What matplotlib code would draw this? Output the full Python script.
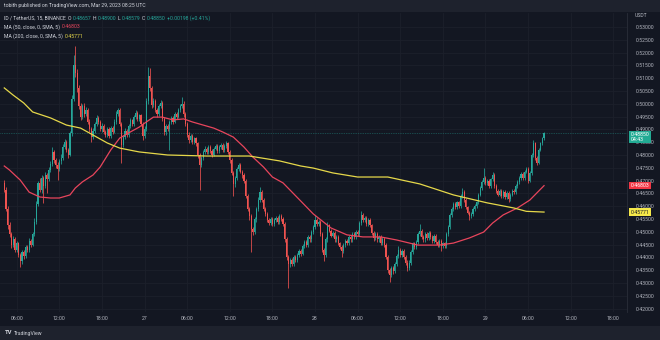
import numpy as np
import matplotlib.pyplot as plt
from matplotlib.transforms import blended_transform_factory

# ID / USDT, 15 min candles, 26 Mar 04:15 -> 29 Mar 08:15 UTC
first_open = 0.4690
last_open = 0.48657

closes = [
    0.4665, 0.4590, 0.4525, 0.4490, 0.4450, 0.4470, 0.4430, 0.4455, 0.4410, 0.4385,
    0.4420, 0.4405, 0.4440, 0.4430, 0.4465, 0.4450, 0.4490, 0.4540, 0.4610, 0.4690,
    0.4665, 0.4710, 0.4680, 0.4720, 0.4705, 0.4740, 0.4765, 0.4810, 0.4780, 0.4760,
    0.4745, 0.4775, 0.4790, 0.4830, 0.4850, 0.4820, 0.4800, 0.4885, 0.5020, 0.5150,
    0.5120, 0.5060, 0.4990, 0.4950, 0.4990, 0.4960, 0.4975, 0.4930, 0.4900, 0.4870,
    0.4895, 0.4920, 0.4945, 0.4930, 0.4900, 0.4915, 0.4890, 0.4880, 0.4900, 0.4875,
    0.4905, 0.4890, 0.4930, 0.4960, 0.4975, 0.4920, 0.4840, 0.4870, 0.4895, 0.4880,
    0.4915, 0.4935, 0.4920, 0.4950, 0.4965, 0.4940, 0.4955, 0.4920, 0.4875, 0.4900,
    0.5010, 0.5110, 0.5060, 0.4995, 0.5010, 0.4975, 0.4960, 0.4990, 0.5005, 0.4940,
    0.4890, 0.4915, 0.4900, 0.4930, 0.4945, 0.4930, 0.4960, 0.4950, 0.4975, 0.4990,
    0.5000, 0.4960, 0.4920, 0.4880, 0.4860, 0.4875, 0.4850, 0.4865, 0.4845, 0.4800,
    0.4760, 0.4790, 0.4810, 0.4825, 0.4810, 0.4830, 0.4815, 0.4800, 0.4825, 0.4835,
    0.4815, 0.4830, 0.4840, 0.4820, 0.4835, 0.4845, 0.4810, 0.4780, 0.4730, 0.4685,
    0.4710, 0.4745, 0.4760, 0.4735, 0.4720, 0.4700, 0.4640, 0.4590, 0.4560, 0.4510,
    0.4500, 0.4550, 0.4590, 0.4625, 0.4655, 0.4625, 0.4590, 0.4570, 0.4545, 0.4535,
    0.4550, 0.4530, 0.4545, 0.4555, 0.4540, 0.4560, 0.4550, 0.4530, 0.4470, 0.4400,
    0.4375, 0.4390, 0.4375, 0.4400, 0.4390, 0.4410, 0.4425, 0.4415, 0.4445, 0.4460,
    0.4450, 0.4480, 0.4470, 0.4500, 0.4520, 0.4545, 0.4530, 0.4540, 0.4490, 0.4430,
    0.4410, 0.4470, 0.4525, 0.4505, 0.4485, 0.4495, 0.4470, 0.4480, 0.4455, 0.4440,
    0.4425, 0.4450, 0.4465, 0.4455, 0.4480, 0.4470, 0.4490, 0.4480, 0.4500, 0.4490,
    0.4535, 0.4565, 0.4545, 0.4555, 0.4530, 0.4545, 0.4525, 0.4495, 0.4475, 0.4490,
    0.4470, 0.4480, 0.4455, 0.4470, 0.4450, 0.4400, 0.4350, 0.4330, 0.4360, 0.4345,
    0.4375, 0.4405, 0.4430, 0.4410, 0.4425, 0.4400, 0.4380, 0.4360, 0.4380, 0.4420,
    0.4455, 0.4440, 0.4460, 0.4490, 0.4505, 0.4480, 0.4470, 0.4490, 0.4475, 0.4495,
    0.4480, 0.4465, 0.4485, 0.4460, 0.4450, 0.4465, 0.4445, 0.4455, 0.4445, 0.4490,
    0.4520, 0.4565, 0.4590, 0.4610, 0.4595, 0.4615, 0.4600, 0.4640, 0.4655, 0.4625,
    0.4595, 0.4575, 0.4560, 0.4570, 0.4590, 0.4600, 0.4615, 0.4645, 0.4670, 0.4695,
    0.4710, 0.4690, 0.4700, 0.4680, 0.4705, 0.4720, 0.4680, 0.4660, 0.4645, 0.4660,
    0.4640, 0.4655, 0.4635, 0.4650, 0.4630, 0.4645, 0.4660, 0.4655, 0.4680, 0.4695,
    0.4710, 0.4725, 0.4710, 0.4735, 0.4745, 0.4700, 0.4730, 0.4800, 0.4845, 0.4790,
    0.4770, 0.4820, 0.4845, 0.48652, 0.48850,
]

highs = [
    0.4702, 0.4675, 0.4600, 0.4540, 0.4498, 0.4482, 0.4478, 0.4465, 0.4462, 0.4418,
    0.4430, 0.4428, 0.4450, 0.4448, 0.4475, 0.4472, 0.4498, 0.4552, 0.4622, 0.4700,
    0.4712, 0.4722, 0.4718, 0.4732, 0.4728, 0.4752, 0.4778, 0.4832, 0.4818, 0.4790,
    0.4772, 0.4785, 0.4802, 0.4842, 0.4862, 0.4858, 0.4828, 0.4892, 0.5035, 0.5190,
    0.5225, 0.5135, 0.5072, 0.5002, 0.5000, 0.5005, 0.4988, 0.4985, 0.4942, 0.4910,
    0.4905, 0.4928, 0.4955, 0.4952, 0.4938, 0.4925, 0.4922, 0.4898, 0.4910, 0.4908,
    0.4912, 0.4912, 0.4940, 0.4970, 0.4985, 0.4982, 0.4928, 0.4880, 0.4905, 0.4902,
    0.4922, 0.4945, 0.4942, 0.4958, 0.4975, 0.4972, 0.4962, 0.4962, 0.4928, 0.4912,
    0.5022, 0.5145, 0.5140, 0.5070, 0.5022, 0.5018, 0.4985, 0.4998, 0.5015, 0.5012,
    0.4948, 0.4922, 0.4922, 0.4938, 0.4952, 0.4952, 0.4968, 0.4968, 0.4982, 0.4998,
    0.5027, 0.5010, 0.4968, 0.4928, 0.4888, 0.4882, 0.4882, 0.4872, 0.4872, 0.4852,
    0.4808, 0.4798, 0.4818, 0.4835, 0.4832, 0.4838, 0.4838, 0.4822, 0.4832, 0.4842,
    0.4842, 0.4838, 0.4848, 0.4848, 0.4842, 0.4855, 0.4852, 0.4818, 0.4788, 0.4738,
    0.4718, 0.4752, 0.4770, 0.4768, 0.4742, 0.4728, 0.4708, 0.4648, 0.4598, 0.4568,
    0.4520, 0.4558, 0.4598, 0.4635, 0.4676, 0.4662, 0.4632, 0.4598, 0.4578, 0.4552,
    0.4558, 0.4558, 0.4552, 0.4562, 0.4562, 0.4568, 0.4570, 0.4558, 0.4538, 0.4478,
    0.4408, 0.4398, 0.4398, 0.4408, 0.4408, 0.4418, 0.4432, 0.4432, 0.4452, 0.4468,
    0.4468, 0.4488, 0.4488, 0.4508, 0.4528, 0.4566, 0.4552, 0.4548, 0.4548, 0.4498,
    0.4438, 0.4478, 0.4540, 0.4532, 0.4512, 0.4502, 0.4502, 0.4488, 0.4488, 0.4462,
    0.4448, 0.4458, 0.4472, 0.4472, 0.4488, 0.4488, 0.4498, 0.4498, 0.4508, 0.4508,
    0.4542, 0.4580, 0.4572, 0.4562, 0.4562, 0.4552, 0.4552, 0.4532, 0.4502, 0.4498,
    0.4498, 0.4488, 0.4488, 0.4478, 0.4478, 0.4458, 0.4408, 0.4358, 0.4368, 0.4368,
    0.4382, 0.4412, 0.4445, 0.4438, 0.4432, 0.4432, 0.4408, 0.4388, 0.4388, 0.4428,
    0.4462, 0.4462, 0.4468, 0.4498, 0.4530, 0.4512, 0.4488, 0.4498, 0.4498, 0.4502,
    0.4502, 0.4488, 0.4492, 0.4492, 0.4468, 0.4472, 0.4472, 0.4462, 0.4462, 0.4498,
    0.4528, 0.4572, 0.4598, 0.4618, 0.4618, 0.4622, 0.4622, 0.4648, 0.4672, 0.4662,
    0.4632, 0.4602, 0.4582, 0.4578, 0.4598, 0.4608, 0.4622, 0.4652, 0.4678, 0.4702,
    0.4750, 0.4718, 0.4708, 0.4708, 0.4712, 0.4735, 0.4728, 0.4688, 0.4668, 0.4668,
    0.4668, 0.4662, 0.4662, 0.4658, 0.4658, 0.4652, 0.4668, 0.4668, 0.4688, 0.4702,
    0.4718, 0.4732, 0.4732, 0.4742, 0.4752, 0.4752, 0.4738, 0.4808, 0.4860, 0.4852,
    0.4798, 0.4828, 0.4852, 0.4872, 0.48900,
]

lows = [
    0.4655, 0.4582, 0.4510, 0.4478, 0.4438, 0.4442, 0.4420, 0.4422, 0.4400, 0.4362,
    0.4375, 0.4395, 0.4398, 0.4420, 0.4422, 0.4442, 0.4445, 0.4482, 0.4532, 0.4600,
    0.4655, 0.4652, 0.4612, 0.4672, 0.4650, 0.4698, 0.4732, 0.4758, 0.4770, 0.4748,
    0.4702, 0.4738, 0.4765, 0.4782, 0.4822, 0.4810, 0.4790, 0.4795, 0.4875, 0.5010,
    0.5105, 0.5045, 0.4978, 0.4935, 0.4940, 0.4950, 0.4952, 0.4922, 0.4888, 0.4850,
    0.4862, 0.4885, 0.4912, 0.4922, 0.4892, 0.4890, 0.4882, 0.4870, 0.4872, 0.4865,
    0.4868, 0.4882, 0.4885, 0.4922, 0.4952, 0.4912, 0.4770, 0.4830, 0.4862, 0.4870,
    0.4872, 0.4905, 0.4912, 0.4915, 0.4942, 0.4932, 0.4932, 0.4912, 0.4860, 0.4868,
    0.4892, 0.5000, 0.5050, 0.4985, 0.4988, 0.4968, 0.4950, 0.4952, 0.4982, 0.4932,
    0.4878, 0.4880, 0.4892, 0.4820, 0.4922, 0.4922, 0.4925, 0.4942, 0.4945, 0.4968,
    0.4982, 0.4950, 0.4912, 0.4872, 0.4848, 0.4852, 0.4842, 0.4842, 0.4835, 0.4790,
    0.4663, 0.4752, 0.4782, 0.4802, 0.4802, 0.4805, 0.4808, 0.4792, 0.4795, 0.4818,
    0.4808, 0.4808, 0.4822, 0.4812, 0.4812, 0.4828, 0.4802, 0.4770, 0.4720, 0.4640,
    0.4675, 0.4702, 0.4738, 0.4728, 0.4712, 0.4690, 0.4632, 0.4580, 0.4548, 0.4422,
    0.4488, 0.4492, 0.4540, 0.4582, 0.4618, 0.4618, 0.4582, 0.4562, 0.4538, 0.4525,
    0.4528, 0.4522, 0.4522, 0.4538, 0.4532, 0.4532, 0.4542, 0.4522, 0.4460, 0.4388,
    0.4280, 0.4362, 0.4365, 0.4368, 0.4382, 0.4382, 0.4402, 0.4405, 0.4408, 0.4438,
    0.4442, 0.4442, 0.4462, 0.4462, 0.4492, 0.4512, 0.4522, 0.4522, 0.4482, 0.4420,
    0.4385, 0.4402, 0.4462, 0.4498, 0.4478, 0.4478, 0.4462, 0.4462, 0.4448, 0.4432,
    0.4400, 0.4418, 0.4442, 0.4448, 0.4448, 0.4462, 0.4462, 0.4472, 0.4472, 0.4482,
    0.4482, 0.4528, 0.4538, 0.4538, 0.4522, 0.4522, 0.4518, 0.4488, 0.4465, 0.4468,
    0.4462, 0.4462, 0.4448, 0.4448, 0.4442, 0.4392, 0.4340, 0.4302, 0.4322, 0.4335,
    0.4338, 0.4368, 0.4398, 0.4402, 0.4402, 0.4392, 0.4372, 0.4345, 0.4352, 0.4372,
    0.4412, 0.4432, 0.4432, 0.4452, 0.4482, 0.4472, 0.4462, 0.4462, 0.4468, 0.4468,
    0.4472, 0.4458, 0.4458, 0.4452, 0.4440, 0.4442, 0.4425, 0.4438, 0.4438, 0.4438,
    0.4482, 0.4512, 0.4558, 0.4582, 0.4588, 0.4588, 0.4592, 0.4592, 0.4632, 0.4618,
    0.4588, 0.4568, 0.4545, 0.4552, 0.4562, 0.4582, 0.4592, 0.4608, 0.4638, 0.4662,
    0.4688, 0.4682, 0.4682, 0.4672, 0.4672, 0.4698, 0.4672, 0.4652, 0.4638, 0.4638,
    0.4632, 0.4632, 0.4628, 0.4628, 0.4615, 0.4622, 0.4638, 0.4648, 0.4648, 0.4672,
    0.4688, 0.4702, 0.4702, 0.4702, 0.4728, 0.4692, 0.4695, 0.4722, 0.4792, 0.4782,
    0.4760, 0.4765, 0.4815, 0.4838, 0.48579,
]

# moving averages, read at selected candles
ma50_idx = [0, 3, 9, 14, 20, 26, 31, 37, 40, 44, 50, 54, 60, 65, 71, 76, 80, 84, 89, 95,
            101, 106, 112, 118, 123, 129, 135, 140, 146, 151, 157, 167, 174, 184, 193, 202,
            212, 221, 233, 245, 253, 262, 270, 275, 281, 289, 296, 304]
ma50 = [0.4757, 0.4741, 0.4702, 0.4655, 0.4636, 0.4632, 0.4632, 0.4644, 0.4671, 0.4695,
        0.4722, 0.4753, 0.4820, 0.4866, 0.4890, 0.4909, 0.4929, 0.4948, 0.4948, 0.4937,
        0.4941, 0.4929, 0.4917, 0.4905, 0.4890, 0.4870, 0.4831, 0.4792, 0.4753, 0.4714,
        0.4691, 0.4620, 0.4570, 0.4515, 0.4488, 0.4480, 0.4480, 0.4468, 0.4448, 0.4448,
        0.4456, 0.4476, 0.4499, 0.4534, 0.4566, 0.4593, 0.4624, 0.46803]
ma200_idx = [0, 5, 11, 16, 26, 35, 43, 50, 58, 65, 73, 76, 92, 114, 138, 155, 167, 174,
             185, 199, 216, 234, 253, 272, 287, 294, 304]
ma200 = [0.5062, 0.5034, 0.5003, 0.4968, 0.4945, 0.4917, 0.4905, 0.4878, 0.4847, 0.4827,
         0.4816, 0.4812, 0.4800, 0.4796, 0.4796, 0.4777, 0.4757, 0.4749, 0.4730, 0.4714,
         0.4714, 0.4687, 0.4644, 0.4613, 0.4593, 0.4580, 0.45771]

time_ticks = [7, 31, 55, 79, 103, 127, 151, 175, 199, 223, 247, 271, 295, 319, 343]
time_labels = ['06:00', '12:00', '18:00', '27', '06:00', '12:00', '18:00', '28',
               '06:00', '12:00', '18:00', '29', '06:00', '12:00', '18:00']
price_ticks = [0.420, 0.425, 0.430, 0.435, 0.440, 0.445, 0.450, 0.455, 0.460, 0.465,
               0.470, 0.475, 0.480, 0.485, 0.490, 0.495, 0.500, 0.505, 0.510, 0.515,
               0.520, 0.525, 0.530]

BG = '#131722'
BAR = '#1e222d'
GRID = '#1c202b'
TXT = '#b2b5be'
UP = '#26a69a'
DOWN = '#ef5350'
MA50_C = '#e8455c'
MA200_C = '#e6d84a'
FS = 3.7
plt.rcParams['font.family'] = ['Roboto', 'DejaVu Sans']

W, H = 660, 340
fig = plt.figure(figsize=(W / 100, H / 100), dpi=100, facecolor=BG)

# header / footer strips
fig.patches.append(plt.Rectangle((0, 1 - 12 / H), 1, 12 / H, transform=fig.transFigure,
                                 facecolor=BAR, edgecolor='none', zorder=0))
fig.patches.append(plt.Rectangle((0, 0), 1, 14 / H, transform=fig.transFigure,
                                 facecolor=BAR, edgecolor='none', zorder=0))

ax_l, ax_r, ax_t, ax_b = 0, 627, 13, 312
ax = fig.add_axes([ax_l / W, 1 - ax_b / H, (ax_r - ax_l) / W, (ax_b - ax_t) / H])
ax.set_facecolor(BG)

n = len(closes)
idx = np.arange(n)
c = np.array(closes)
o = np.concatenate([[first_open], c[:-1]])
o[-1] = last_open
hi = np.array(highs)
lo = np.array(lows)
up = c >= o
cols = np.where(up, UP, DOWN)

ax.vlines(idx, lo, hi, colors=cols, linewidth=0.55, zorder=3)
body = np.where(np.abs(c - o) < 0.00015, 0.00015, c - o)
ax.bar(idx, body, bottom=o, width=0.62, color=cols, linewidth=0, zorder=3)

ax.plot(ma50_idx, ma50, color=MA50_C, linewidth=0.9, zorder=4)
ax.plot(ma200_idx, ma200, color=MA200_C, linewidth=0.9, zorder=4)

# last price line
ax.axhline(closes[-1], color=UP, linewidth=0.5, linestyle=(0, (1, 1.5)), alpha=0.7, zorder=2)

ax.set_xlim(-2.405, 350.72)
ax.set_ylim(0.41867, 0.53547)

ax.set_xticks(time_ticks)
ax.set_xticklabels(time_labels)
ax.set_yticks(price_ticks)
ax.set_yticklabels([f'{p:.5f}' for p in price_ticks])
ax.yaxis.tick_right()
ax.tick_params(axis='both', length=0, labelsize=FS, colors=TXT)
ax.tick_params(axis='y', pad=6)
ax.tick_params(axis='x', pad=3.2)
ax.grid(True, color=GRID, linewidth=0.6)
ax.set_axisbelow(True)
for s in ['top', 'left', 'bottom']:
    ax.spines[s].set_visible(False)
ax.spines['right'].set_color('#2a2e39')
ax.spines['right'].set_linewidth(0.6)

tr = blended_transform_factory(ax.transAxes, ax.transData)
ax.text(1.012, 0.5345, 'USDT', transform=tr, fontsize=FS, color=TXT, va='center', ha='left')


def price_tag(price, text, fc, tc, dy=0.0):
    ax.text(1.006, price + dy, text, transform=tr, fontsize=FS, color=tc, ha='left',
            va='center', linespacing=1.05, zorder=10, clip_on=False,
            bbox=dict(boxstyle='square,pad=0.25', facecolor=fc, edgecolor='none'))


price_tag(closes[-1], f'{closes[-1]:.5f}\n04:43', '#22ab94', 'white', dy=-0.0015)
price_tag(ma50[-1], f'{ma50[-1]:.5f}', '#f23645', 'white')
price_tag(ma200[-1], f'{ma200[-1]:.5f}', '#f5e84a', '#131722')

fig.text(4 / W, 1 - 6 / H, 'tobith published on TradingView.com, Mar 29, 2023 08:25 UTC',
         fontsize=FS, color='#d1d4dc', va='center', ha='left')

renderer = fig.canvas.get_renderer()


def chain(x, y, parts, gap=1.5):
    for s, col in parts:
        t = fig.text(x / W, 1 - y / H, s, fontsize=FS, color=col, va='center', ha='left')
        x += t.get_window_extent(renderer).width + gap


chg = closes[-1] - closes[-2]
chain(4, 18, [('ID / TetherUS, 15, BINANCE', '#d1d4dc'),
              ('O', '#d1d4dc'), (f'{last_open:.5f}', UP),
              ('H', '#d1d4dc'), (f'{highs[-1]:.5f}', UP),
              ('L', '#d1d4dc'), (f'{lows[-1]:.5f}', UP),
              ('C', '#d1d4dc'), (f'{closes[-1]:.5f}', UP),
              (f'+{chg:.5f} (+{chg / closes[-2] * 100:.2f}%)', UP)])
chain(4, 27, [('MA (50, close, 0, SMA, 5)', '#d1d4dc'), (f'{ma50[-1]:.5f}', MA50_C)])
chain(4, 36, [('MA (200, close, 0, SMA, 5)', '#d1d4dc'), (f'{ma200[-1]:.5f}', MA200_C)])

fig.text(5 / W, 1 - 333 / H, 'TV', fontsize=4.2, fontweight='bold', color='#d1d4dc',
         va='center', ha='left')
fig.text(14 / W, 1 - 333 / H, 'TradingView', fontsize=FS, color='#d1d4dc',
         va='center', ha='left')

fig.savefig('out.png', dpi=100, facecolor=BG)
